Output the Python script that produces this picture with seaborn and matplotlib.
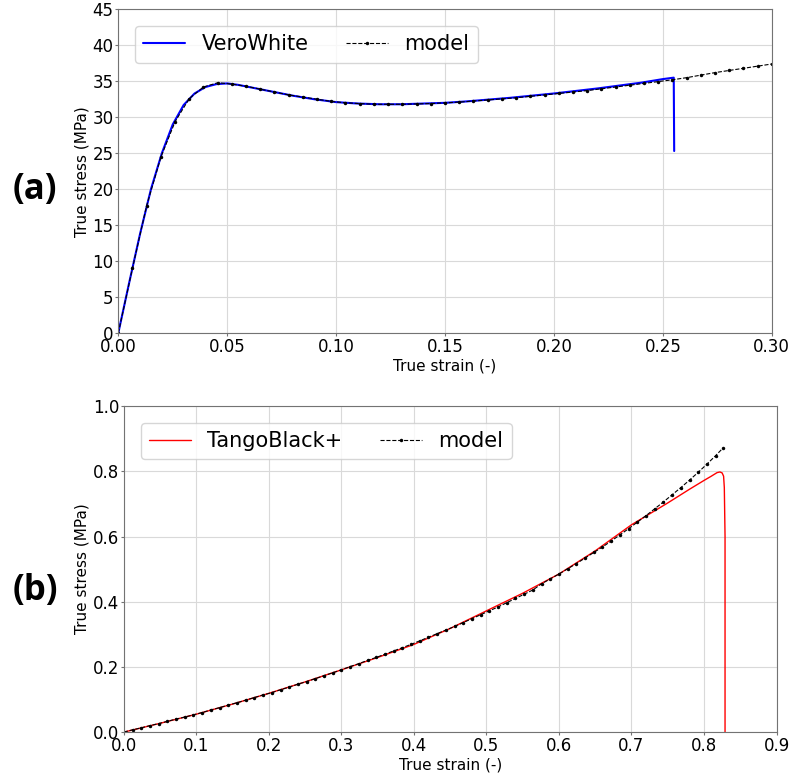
import numpy as np
import pandas as pd
import matplotlib
matplotlib.use("Agg")
import matplotlib.pyplot as plt
import seaborn as sns

# (a) VeroWhite - experimental curve (strain, MPa)
vero_strain = [0.000, 0.005, 0.010, 0.015, 0.020, 0.025, 0.030, 0.035, 0.040, 0.045,
               0.050, 0.055, 0.060, 0.070, 0.080, 0.090, 0.100, 0.110, 0.120, 0.130,
               0.140, 0.150, 0.160, 0.170, 0.180, 0.190, 0.200, 0.210, 0.220, 0.230,
               0.240, 0.250, 0.255, 0.2552]
vero_stress = [0.0, 7.0, 13.8, 20.0, 25.0, 29.0, 31.7, 33.3, 34.2, 34.6,
               34.7, 34.5, 34.2, 33.6, 33.0, 32.5, 32.1, 31.9, 31.8, 31.8,
               31.9, 32.0, 32.2, 32.45, 32.7, 33.0, 33.3, 33.65, 34.0, 34.4,
               34.8, 35.3, 35.5, 25.3]

# (a) model
model_a_strain = [0.0000, 0.0065, 0.0130, 0.0196, 0.0261, 0.0326, 0.0391, 0.0457, 0.0522, 0.0587,
                  0.0652, 0.0717, 0.0783, 0.0848, 0.0913, 0.0978, 0.1043, 0.1109, 0.1174, 0.1239,
                  0.1304, 0.1370, 0.1435, 0.1500, 0.1565, 0.1630, 0.1696, 0.1761, 0.1826, 0.1891,
                  0.1957, 0.2022, 0.2087, 0.2152, 0.2217, 0.2283, 0.2348, 0.2413, 0.2478, 0.2543,
                  0.2609, 0.2674, 0.2739, 0.2804, 0.2870, 0.2935, 0.3000]
model_a_stress = [0.0, 9.0, 17.7, 24.5, 29.4, 32.6, 34.2, 34.8, 34.6, 34.3,
                  33.9, 33.5, 33.1, 32.8, 32.5, 32.2, 32.0, 31.9, 31.8, 31.8,
                  31.8, 31.85, 31.9, 32.0, 32.1, 32.25, 32.4, 32.55, 32.7, 32.9,
                  33.1, 33.3, 33.5, 33.7, 33.95, 34.2, 34.45, 34.7, 34.95, 35.2,
                  35.5, 35.85, 36.2, 36.5, 36.8, 37.1, 37.4]

# (b) TangoBlack+ - experimental curve
tango_strain = [0.00, 0.05, 0.10, 0.15, 0.20, 0.25, 0.30, 0.35, 0.40, 0.45,
                0.50, 0.55, 0.60, 0.65, 0.70, 0.75, 0.78, 0.80, 0.81, 0.818,
                0.822, 0.825, 0.827, 0.828, 0.829, 0.829, 0.829]
tango_stress = [0.000, 0.027, 0.055, 0.086, 0.119, 0.154, 0.191, 0.229, 0.269, 0.318,
                0.372, 0.426, 0.485, 0.556, 0.636, 0.703, 0.745, 0.772, 0.785, 0.796,
                0.798, 0.795, 0.785, 0.750, 0.600, 0.300, 0.000]

# (b) model
model_b_strain = [0.000, 0.012, 0.024, 0.036, 0.048, 0.060, 0.072, 0.084, 0.096, 0.108,
                  0.120, 0.132, 0.144, 0.156, 0.168, 0.180, 0.192, 0.204, 0.216, 0.228,
                  0.240, 0.252, 0.264, 0.276, 0.288, 0.300, 0.312, 0.324, 0.336, 0.348,
                  0.360, 0.372, 0.384, 0.396, 0.408, 0.420, 0.432, 0.444, 0.456, 0.468,
                  0.480, 0.492, 0.504, 0.516, 0.528, 0.540, 0.552, 0.564, 0.576, 0.588,
                  0.600, 0.612, 0.624, 0.636, 0.648, 0.660, 0.672, 0.684, 0.696, 0.708,
                  0.720, 0.732, 0.744, 0.756, 0.768, 0.780, 0.792, 0.804, 0.816, 0.826]
model_b_stress = [0.000, 0.007, 0.013, 0.020, 0.026, 0.033, 0.040, 0.046, 0.053, 0.060,
                  0.068, 0.075, 0.083, 0.090, 0.098, 0.106, 0.114, 0.121, 0.130, 0.138,
                  0.147, 0.155, 0.164, 0.173, 0.182, 0.191, 0.201, 0.210, 0.220, 0.229,
                  0.239, 0.249, 0.259, 0.269, 0.280, 0.291, 0.302, 0.313, 0.324, 0.336,
                  0.348, 0.360, 0.372, 0.384, 0.397, 0.410, 0.423, 0.436, 0.455, 0.470,
                  0.485, 0.501, 0.517, 0.534, 0.551, 0.568, 0.586, 0.605, 0.624, 0.644,
                  0.664, 0.685, 0.706, 0.728, 0.750, 0.773, 0.797, 0.822, 0.848, 0.871]

sns.set_style("whitegrid", {"axes.edgecolor": "0.45", "grid.color": "0.85",
                            "xtick.bottom": True, "ytick.left": True,
                            "text.color": "black", "axes.labelcolor": "black",
                            "xtick.color": "black", "ytick.color": "black"})
plt.rcParams["font.family"] = ["DejaVu Sans"]


def draw_panel(ax, x, y, mx, my, label, color, lw, xlim, ylim, xticks, yticks, xfmt, yfmt):
    exp = pd.DataFrame({"strain": x, "stress": y})
    mod = pd.DataFrame({"strain": mx, "stress": my})
    sns.lineplot(data=exp, x="strain", y="stress", sort=False, estimator=None,
                 color=color, lw=lw, label=label, ax=ax)
    sns.lineplot(data=mod, x="strain", y="stress", sort=False, estimator=None,
                 color="black", lw=0.8, ls="--", marker="o", markersize=2.5,
                 markeredgewidth=0, label="model", ax=ax)
    ax.set_xlim(*xlim)
    ax.set_ylim(*ylim)
    ax.set_xticks(xticks)
    ax.set_yticks(yticks)
    ax.set_xticklabels([xfmt.format(v) for v in xticks], fontsize=12)
    ax.set_yticklabels([yfmt.format(v) for v in yticks], fontsize=12)
    ax.tick_params(length=2, width=0.8, color="0.45", pad=1.5)
    ax.set_xlabel("True strain (-)", fontsize=11, labelpad=2)
    ax.set_ylabel("True stress (MPa)", fontsize=11, labelpad=2)
    ax.legend(loc="upper left", ncol=2, fontsize=15, frameon=True,
              columnspacing=1.8, borderaxespad=0.8)


fig = plt.figure(figsize=(7.94, 7.78), dpi=100)
ax1 = fig.add_axes([0.149, 0.572, 0.823, 0.416])
ax2 = fig.add_axes([0.156, 0.059, 0.822, 0.419])

draw_panel(ax1, vero_strain, vero_stress, model_a_strain, model_a_stress,
           "VeroWhite", "#0000ff", 1.5, (0, 0.30), (0, 45),
           [0, 0.05, 0.10, 0.15, 0.20, 0.25, 0.30], list(range(0, 50, 5)),
           "{:.2f}", "{:.0f}")
draw_panel(ax2, tango_strain, tango_stress, model_b_strain, model_b_stress,
           "TangoBlack+", "#ff0000", 1.0, (0, 0.9), (0, 1.0),
           [0, 0.1, 0.2, 0.3, 0.4, 0.5, 0.6, 0.7, 0.8, 0.9],
           [0, 0.2, 0.4, 0.6, 0.8, 1.0], "{:.1f}", "{:.1f}")

fig.text(0.044, 1 - 190 / 778, "(a)", fontsize=25, fontweight="bold", color="black",
         family=["Open Sans", "DejaVu Sans"], ha="center", va="center")
fig.text(0.044, 1 - 591 / 778, "(b)", fontsize=25, fontweight="bold", color="black",
         family=["Open Sans", "DejaVu Sans"], ha="center", va="center")

fig.savefig("out.png", dpi=100)
